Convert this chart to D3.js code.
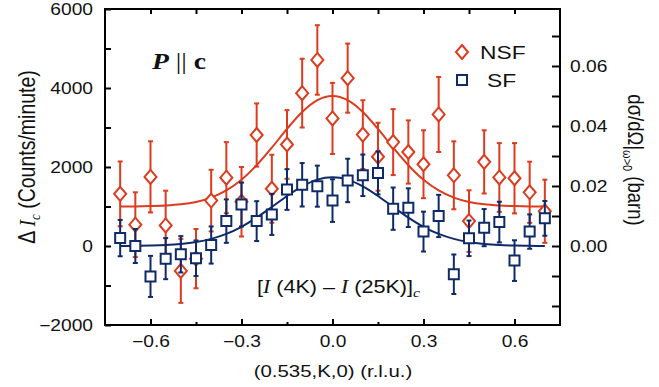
<!DOCTYPE html>
<html>
<head>
<meta charset="utf-8">
<script src="https://d3js.org/d3.v7.min.js"></script>
<style>
	body { margin: 0; background: #fff; }
	svg { display: block; font-family: "Liberation Sans", Arial, sans-serif; }
</style>
</head>
<body>
<div id="chart"></div>
<script>
'use strict';

//Momentum transfer K (r.l.u.) of every measured point
var kValues = [-0.70, -0.65, -0.60, -0.55, -0.50, -0.45, -0.40, -0.35, -0.30, -0.25,
	-0.20, -0.15, -0.10, -0.05, 0.00, 0.05, 0.10, 0.15, 0.20, 0.25,
	0.30, 0.35, 0.40, 0.45, 0.50, 0.55, 0.60, 0.65, 0.70];

//NSF channel (counts/minute) and its error bars
var nsfCounts = [1320, 540, 1750, 520, -630, -320, 1150, 1730, 1120, 2810,
	1450, 2570, 3870, 4710, 3230, 4250, 2820, 2260, 2630, 2380,
	2070, 3330, 1790, 630, 2130, 1735, 1715, 1360, 880];
var nsfErrors = [820, 820, 900, 880, 810, 750, 780, 900, 880, 800,
	860, 870, 870, 880, 900, 875, 870, 860, 835, 800,
	860, 950, 860, 780, 800, 870, 890, 775, 800];

//SF channel (counts/minute) and its error bars
var sfCounts = [200, 0, -770, -320, -210, -310, 25, 630, 1050, 630,
	800, 1430, 1550, 1515, 1150, 1660, 1790, 1850, 945, 970,
	365, 760, -715, 195, 465, 605, -370, 365, 700];
var sfErrors = [460, 430, 520, 520, 460, 450, 470, 550, 555, 505,
	520, 515, 550, 520, 540, 550, 525, 545, 535, 490,
	505, 535, 500, 450, 470, 515, 515, 435, 440];

//Fitted curves, read at every K above
var nsfFit = [1000, 1002, 1010, 1024, 1054, 1115, 1225, 1406, 1677, 2045,
	2490, 2963, 3391, 3692, 3800, 3692, 3391, 2963, 2490, 2045,
	1677, 1406, 1225, 1115, 1054, 1024, 1010, 1002, 1000];
var sfFit = [1, 4, 11, 24, 51, 99, 181, 307, 487, 719,
	988, 1266, 1510, 1680, 1740, 1680, 1510, 1266, 988, 719,
	487, 307, 181, 99, 51, 24, 11, 4, 1];

//Tick values
var xTicks = [-0.6, -0.45, -0.3, -0.15, 0, 0.15, 0.3, 0.45, 0.6];
var xLabels = [-0.6, -0.3, 0, 0.3, 0.6];
var yTicks = [-2000, -1000, 0, 1000, 2000, 3000, 4000, 5000, 6000];
var yLabels = [-2000, 0, 2000, 4000, 6000];
var rTicks = [-0.02, -0.01, 0.00, 0.01, 0.02, 0.03, 0.04, 0.05, 0.06, 0.07];
var rLabels = [0.00, 0.02, 0.04, 0.06];

(function() {
	var width = 659, height = 387;
	var SX = 1.2; //horizontal stretch of the text in the figure
	var RED = '#dc3b1e', BLUE = '#0e2a68';

	var svg = d3.select('#chart').append('svg')
		.attr('width', width)
		.attr('height', height);

	/***************************************
	 * SCALES
	 ***************************************/
	var x = d3.scaleLinear().domain([-0.75, 0.75]).range([105, 560]);
	var y = d3.scaleLinear().domain([-2000, 6000]).range([325, 9]);
	//right axis: 0.02 barn for every 1519 counts/minute
	var k = 0.02 / 1519;
	var yR = d3.scaleLinear().domain([-2000 * k, 6000 * k]).range([325, 9]);

	//stretched text helper
	function stext(parent, px, py, anchor, size) {
		return parent.append('text')
			.attr('transform', 'translate(' + px + ',' + py + ') scale(' + SX + ',1)')
			.attr('text-anchor', anchor)
			.style('font-size', size + 'px')
			.attr('fill', '#111');
	}

	/***************************************
	 * AXES
	 ***************************************/
	function styleAxis(g, labelSet, fmt) {
		g.select('.domain').remove();
		g.selectAll('.tick line').attr('stroke', '#000').attr('stroke-width', 2);
		g.selectAll('.tick text')
			.style('font-size', '16px')
			.attr('fill', '#111')
			.text(function(d) {
				return labelSet.some(function(v) { return Math.abs(v - d) < 1e-9; }) ? fmt(d) : '';
			});
	}
	//bottom
	var xAxis = svg.append('g')
		.attr('transform', 'translate(0,' + 325 + ')')
		.call(d3.axisBottom(x).tickValues(xTicks).tickSizeInner(-6).tickSizeOuter(0).tickPadding(11));
	styleAxis(xAxis, xLabels, d3.format('.1f'));
	xAxis.selectAll('.tick line').attr('y2', function(d) {
		return xLabels.indexOf(d) >= 0 ? -6 : -3;
	});
	xAxis.selectAll('.tick text').attr('transform', 'scale(' + SX + ',1)');
	//top
	var tAxis = svg.append('g')
		.attr('transform', 'translate(0,' + 9 + ')')
		.call(d3.axisTop(x).tickValues(xTicks).tickSizeInner(-5).tickSizeOuter(0));
	styleAxis(tAxis, [], d3.format('.1f'));
	//left
	var yAxis = svg.append('g')
		.attr('transform', 'translate(' + 105 + ',0)')
		.call(d3.axisLeft(y).tickValues(yTicks).tickSizeInner(-6).tickSizeOuter(0).tickPadding(12 / SX));
	styleAxis(yAxis, yLabels, d3.format('d'));
	yAxis.selectAll('.tick text').attr('transform', 'scale(' + SX + ',1)');
	//right
	var rAxis = svg.append('g')
		.attr('transform', 'translate(' + 560 + ',0)')
		.call(d3.axisRight(yR).tickValues(rTicks).tickSizeInner(-8).tickSizeOuter(0).tickPadding(10 / SX));
	styleAxis(rAxis, rLabels, d3.format('.2f'));
	rAxis.selectAll('.tick text').attr('transform', 'scale(' + SX + ',1)');

	//Frame
	svg.append('rect')
		.attr('x', 105).attr('y', 9)
		.attr('width', 455).attr('height', 316)
		.attr('fill', 'none')
		.attr('stroke', '#000')
		.attr('stroke-width', 2);

	/***************************************
	 * DATA
	 ***************************************/
	var plot = svg.append('g');

	var line = d3.line()
		.x(function(d) { return x(d[0]); })
		.y(function(d) { return y(d[1]); })
		.curve(d3.curveMonotoneX);

	function drawSeries(counts, errors, fit, color, shape) {
		var pts = kValues.map(function(kv, i) { return [kv, counts[i], errors[i]]; });
		//fit
		plot.append('path')
			.datum(kValues.map(function(kv, i) { return [kv, fit[i]]; }))
			.attr('d', line)
			.attr('fill', 'none')
			.attr('stroke', color)
			.attr('stroke-width', 2);
		var g = plot.append('g').attr('stroke', color).attr('stroke-width', 2);
		//error bars
		g.selectAll('line.bar').data(pts).enter().append('line')
			.attr('x1', function(d) { return x(d[0]); })
			.attr('x2', function(d) { return x(d[0]); })
			.attr('y1', function(d) { return y(d[1] - d[2]); })
			.attr('y2', function(d) { return y(d[1] + d[2]); });
		g.selectAll('line.capT').data(pts).enter().append('line')
			.attr('x1', function(d) { return x(d[0]) - 2.5; })
			.attr('x2', function(d) { return x(d[0]) + 2.5; })
			.attr('y1', function(d) { return y(d[1] + d[2]); })
			.attr('y2', function(d) { return y(d[1] + d[2]); });
		g.selectAll('line.capB').data(pts).enter().append('line')
			.attr('x1', function(d) { return x(d[0]) - 2.5; })
			.attr('x2', function(d) { return x(d[0]) + 2.5; })
			.attr('y1', function(d) { return y(d[1] - d[2]); })
			.attr('y2', function(d) { return y(d[1] - d[2]); });
		//markers
		g.selectAll('path.mark').data(pts).enter().append('path')
			.attr('d', shape)
			.attr('transform', function(d) { return 'translate(' + x(d[0]) + ',' + y(d[1]) + ')'; })
			.attr('fill', '#fff');
	}

	var diamond = 'M0,-7L6,0L0,7L-6,0Z';
	var square = 'M-5,-5H5V5H-5Z';
	drawSeries(nsfCounts, nsfErrors, nsfFit, RED, diamond);
	drawSeries(sfCounts, sfErrors, sfFit, BLUE, square);

	/***************************************
	 * LEGEND
	 ***************************************/
	svg.append('path').attr('d', diamond)
		.attr('transform', 'translate(462,52)')
		.attr('fill', '#fff').attr('stroke', RED).attr('stroke-width', 2);
	stext(svg, 480, 59, 'start', 19).text('NSF');
	svg.append('path').attr('d', square)
		.attr('transform', 'translate(462,80)')
		.attr('fill', '#fff').attr('stroke', BLUE).attr('stroke-width', 2);
	stext(svg, 487, 87, 'start', 19).text('SF');

	/***************************************
	 * LABELS
	 ***************************************/
	//P || c
	var pc = stext(svg, 152, 69, 'start', 23)
		.style('font-family', '"Liberation Serif", "Times New Roman", serif')
		.style('font-weight', 'bold');
	pc.append('tspan').style('font-style', 'italic').text('P');
	pc.append('tspan').style('font-weight', 'normal').text(' || ');
	pc.append('tspan').text('c');

	//[I (4K) - I (25K)]c
	var diff = stext(svg, 257, 293, 'start', 18);
	diff.append('tspan').text('[');
	diff.append('tspan').style('font-family', '"Liberation Serif", serif').style('font-style', 'italic').text('I');
	diff.append('tspan').text(' (4K) \u2013 ');
	diff.append('tspan').style('font-family', '"Liberation Serif", serif').style('font-style', 'italic').text('I');
	diff.append('tspan').text(' (25K)]');
	diff.append('tspan').style('font-family', '"Liberation Serif", serif').style('font-style', 'italic')
		.style('font-size', '13px').attr('dy', 4).text('c');

	//x title
	stext(svg, 333, 377, 'middle', 17).text('(0.535,K,0) (r.l.u.)');

	//left title
	var lt = svg.append('text')
		.attr('transform', 'translate(35,157) scale(' + SX + ',1) rotate(-90)')
		.attr('text-anchor', 'middle')
		.style('font-size', '19.5px')
		.attr('fill', '#111');
	lt.append('tspan').text('\u0394 ');
	lt.append('tspan').style('font-family', '"Liberation Serif", serif').style('font-style', 'italic').text('I');
	lt.append('tspan').style('font-family', '"Liberation Serif", serif').style('font-style', 'italic')
		.style('font-size', '13px').attr('dy', 4).text('c');
	lt.append('tspan').attr('dy', -4).text(' (Counts/minute)');

	//right title
	var rt = svg.append('text')
		.attr('transform', 'translate(628,160) scale(' + SX + ',1) rotate(90)')
		.attr('text-anchor', 'middle')
		.style('font-size', '18.5px')
		.attr('fill', '#111');
	rt.append('tspan').text('d\u03c3/d\u03a9|');
	rt.append('tspan').style('font-size', '11px').attr('dy', 4).text('\u03c9>0');
	rt.append('tspan').attr('dy', -4).text(' (barn)');
})();
</script>
</body>
</html>
